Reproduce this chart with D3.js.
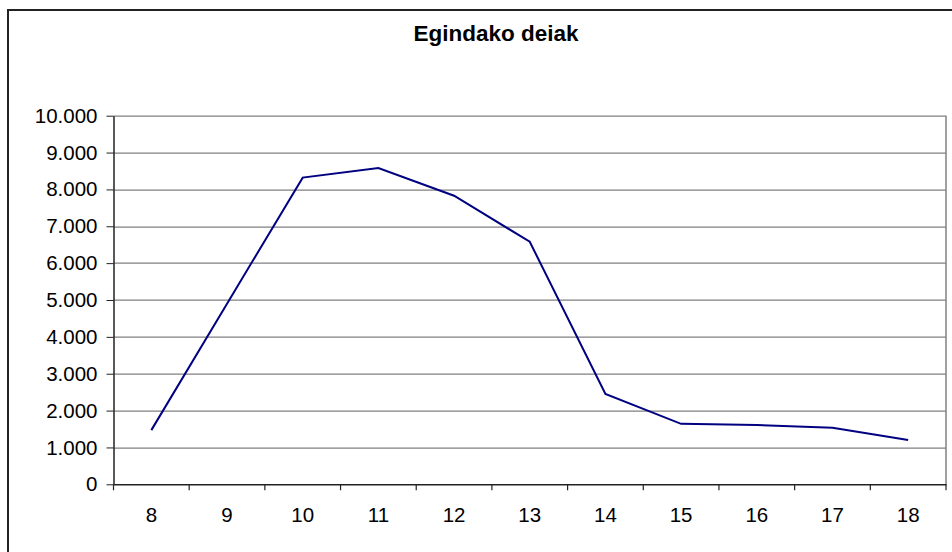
<!DOCTYPE html>
<html>
<head>
<meta charset="utf-8">
<script src="https://cdnjs.cloudflare.com/ajax/libs/d3/7.8.5/d3.min.js"></script>
<style>
  body { margin: 0; background: #fff; }
  svg { display: block; font-family: "Liberation Sans", Arial, sans-serif; }
</style>
</head>
<body>
<div id="chart"></div>
<script>
var title = "Egindako deiak";
var hours = ["8", "9", "10", "11", "12", "13", "14", "15", "16", "17", "18"];
var calls = [1470, 4900, 8320, 8580, 7830, 6580, 2450, 1640, 1610, 1535, 1200];
var yTicks = [0, 1000, 2000, 3000, 4000, 5000, 6000, 7000, 8000, 9000, 10000];

var W = 952, H = 552;
var margin = {top: 115.7, right: 6, bottom: 67.7, left: 113.5},
    width = W - margin.left - margin.right,
    height = H - margin.top - margin.bottom;

var locale = d3.formatLocale({decimal: ",", thousands: ".", grouping: [3], currency: ["", "€"]});
var fmt = locale.format(",");

var svg = d3.select("#chart").append("svg")
    .attr("width", W)
    .attr("height", H);

// outer chart frame (runs off the right and bottom)
svg.append("rect")
    .attr("x", 8).attr("y", 10)
    .attr("width", 1000).attr("height", 600)
    .attr("fill", "none")
    .attr("stroke", "#222")
    .attr("stroke-width", 2);

svg.append("text")
    .attr("x", 496).attr("y", 41)
    .attr("text-anchor", "middle")
    .style("font-size", "22.5px")
    .style("font-weight", "bold")
    .text(title);

var g = svg.append("g")
    .attr("transform", "translate(" + margin.left + "," + margin.top + ")");

var x = d3.scaleBand()
    .domain(hours)
    .range([0, width])
    .padding(0);

var y = d3.scaleLinear()
    .domain([0, 10000])
    .range([height, 0]);

// gridlines
g.append("g").selectAll("line")
    .data(yTicks.slice(1))
    .enter().append("line")
    .attr("x1", 0).attr("x2", width)
    .attr("y1", function(d) { return Math.round(y(d)) + 0.5; })
    .attr("y2", function(d) { return Math.round(y(d)) + 0.5; })
    .attr("stroke", "#808080")
    .attr("stroke-width", 1.2);

// plot area right border
g.append("line")
    .attr("x1", width).attr("x2", width)
    .attr("y1", 0).attr("y2", height)
    .attr("stroke", "#808080")
    .attr("stroke-width", 1.5);

// y axis
var yAxis = g.append("g")
    .call(d3.axisLeft(y).tickValues(yTicks).tickFormat(fmt).tickSize(7).tickSizeOuter(0).tickPadding(9));
yAxis.select(".domain").attr("stroke", "#222").attr("stroke-width", 1.5);
yAxis.selectAll(".tick line").attr("stroke", "#222");
yAxis.selectAll("text")
    .style("font-size", "20.5px")
    .style("font-family", "Liberation Sans, Arial, sans-serif")
    .attr("fill", "#000");

// x axis: ticks on band boundaries
var xAxis = g.append("g")
    .attr("transform", "translate(0," + height + ")")
    .call(d3.axisBottom(x).tickSize(0).tickPadding(23));
xAxis.select(".domain").attr("stroke", "#222").attr("stroke-width", 1.5);
xAxis.selectAll("text")
    .style("font-size", "20.5px")
    .style("font-family", "Liberation Sans, Arial, sans-serif")
    .attr("fill", "#000");

var edges = hours.map(function(h) { return x(h); }).concat([width]);
xAxis.selectAll(".edge")
    .data(edges)
    .enter().append("line")
    .attr("class", "edge")
    .attr("x1", function(d) { return d; })
    .attr("x2", function(d) { return d; })
    .attr("y1", 0).attr("y2", 6)
    .attr("stroke", "#222")
    .attr("stroke-width", 1.2);

// data line
var line = d3.line()
    .x(function(d, i) { return x(hours[i]) + x.bandwidth() / 2; })
    .y(function(d) { return y(d); });

g.append("path")
    .datum(calls)
    .attr("d", line)
    .attr("fill", "none")
    .attr("stroke", "#000080")
    .attr("stroke-width", 2);
</script>
</body>
</html>
